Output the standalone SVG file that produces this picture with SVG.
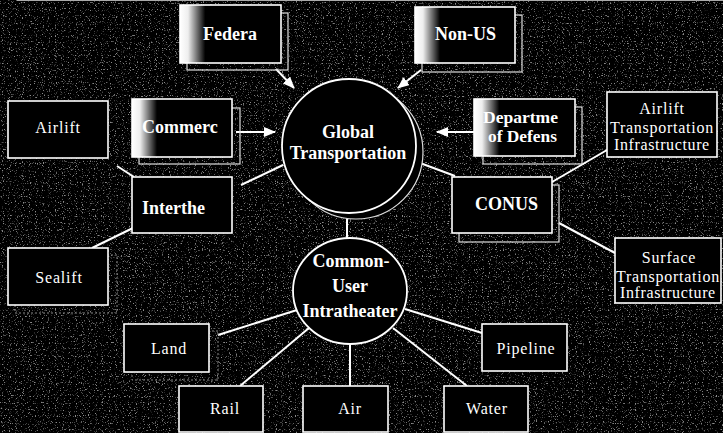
<svg xmlns="http://www.w3.org/2000/svg" width="723" height="433" viewBox="0 0 723 433">
<style>
.bx{fill:#000;stroke:#fff;stroke-width:1.6}
.gbx{stroke:#fff;stroke-width:1.6}
.sh{fill:none;stroke:#ddd;stroke-width:1.2}
.dsh{fill:none;stroke:#888;stroke-width:1;stroke-dasharray:2 2}
.ln{stroke:#fff;stroke-width:2;fill:none}
.ar{stroke:#fff;stroke-width:2;fill:none;marker-end:url(#ah)}
.b{font-family:"Liberation Serif",serif;font-weight:bold;font-size:18px;fill:#fff}
.r{font-family:"Liberation Serif",serif;font-size:16px;fill:#fff;text-anchor:middle;letter-spacing:0.8px}
.c{text-anchor:middle}
</style>
<defs>
<marker id="ah" viewBox="0 0 12 10" refX="11" refY="5" markerWidth="12" markerHeight="10" markerUnits="userSpaceOnUse" orient="auto">
<path d="M0,0 L12,5 L0,10 Z" fill="#fff"/>
</marker>
<linearGradient id="fade" x1="0" y1="0" x2="1" y2="0">
<stop offset="0" stop-color="#fff"/>
<stop offset="0.08" stop-color="#eee"/>
<stop offset="0.25" stop-color="#000"/>
<stop offset="1" stop-color="#000"/>
</linearGradient>
<filter id="noise" x="0" y="0" width="100%" height="100%">
<feTurbulence type="fractalNoise" baseFrequency="0.85" numOctaves="1" seed="7"/>
<feColorMatrix type="matrix" values="0 0 0 0 1 0 0 0 0 1 0 0 0 0 1 7 0 0 0 -4.1"/>
</filter>
</defs>
<rect x="0" y="0" width="723" height="433" fill="#000"/>
<rect x="0" y="0" width="723" height="433" filter="url(#noise)" opacity="0.55"/>
<line x1="17" y1="0.5" x2="723" y2="0.5" stroke="#aaa" stroke-width="1"/>

<g id="connectors">
<line class="ar" x1="276" y1="69" x2="294" y2="88"/>
<line class="ar" x1="421" y1="70" x2="398" y2="88"/>
<line class="ar" x1="236" y1="132" x2="275" y2="132"/>
<line class="ar" x1="474" y1="132" x2="437" y2="132"/>
<line class="ln" x1="117" y1="166" x2="134" y2="177"/>
<line class="ln" x1="133" y1="228" x2="92" y2="248"/>
<line class="ln" x1="241" y1="185" x2="283" y2="165"/>
<line class="ln" x1="412" y1="160" x2="455" y2="176"/>
<line class="ln" x1="552" y1="182" x2="607" y2="150"/>
<line class="ln" x1="559" y1="223" x2="615" y2="253"/>
<line class="ln" x1="347" y1="216" x2="347" y2="239"/>
<line class="ln" x1="218" y1="335" x2="297" y2="310"/>
<line class="ln" x1="240" y1="386" x2="309" y2="328"/>
<line class="ln" x1="350" y1="343" x2="350" y2="386"/>
<line class="ln" x1="467" y1="386" x2="393" y2="328"/>
<line class="ln" x1="482" y1="333" x2="405" y2="309"/>
</g>

<g id="global">
<circle cx="356" cy="152" r="67" fill="#000" stroke="#ddd" stroke-width="1.2"/>
<circle cx="349" cy="146" r="67" fill="#000" stroke="#fff" stroke-width="1.8"/>
<text class="b c" x="348" y="138">Global</text>
<text class="b c" x="348" y="159">Transportation</text>
</g>

<g id="common-user">
<ellipse cx="350" cy="291" rx="57" ry="53" fill="#000" stroke="#fff" stroke-width="1.8"/>
<text class="b c" x="351" y="267">Common-</text>
<text class="b c" x="350" y="292">User</text>
<text class="b c" x="350" y="317">Intratheater</text>
</g>

<g id="federal">
<rect class="sh" x="187" y="13" width="101" height="57"/>
<rect class="gbx" x="180" y="5" width="101" height="58" fill="url(#fade)"/>
<text class="b" x="203" y="40">Federa</text>
</g>

<g id="non-us">
<rect class="sh" x="422" y="15" width="100" height="57"/>
<rect class="gbx" x="415" y="7" width="100" height="56" fill="url(#fade)"/>
<text class="b" x="435" y="40">Non-US</text>
</g>

<g id="commercial">
<rect class="sh" x="139" y="108" width="101" height="56"/>
<rect class="gbx" x="132" y="99" width="100" height="58" fill="url(#fade)"/>
<text class="b" x="142" y="133">Commerc</text>
</g>

<g id="dod">
<rect class="sh" x="483" y="107" width="99" height="57"/>
<rect class="gbx" x="474" y="99" width="101" height="57" fill="url(#fade)"/>
<text class="b" x="483" y="123" style="font-size:16px" textLength="75" lengthAdjust="spacingAndGlyphs">Departme</text>
<text class="b" x="488" y="142" style="font-size:16px" textLength="69" lengthAdjust="spacingAndGlyphs">of Defens</text>
</g>

<g id="airlift">
<rect class="bx" x="8" y="101" width="100" height="57"/>
<text class="r" x="58" y="133">Airlift</text>
</g>

<g id="intertheater">
<rect class="bx" x="132" y="177" width="100" height="56"/>
<text class="b" x="142" y="214">Interthe</text>
</g>

<g id="sealift">
<rect class="dsh" x="15" y="255" width="102" height="58"/>
<rect class="bx" x="8" y="248" width="100" height="57"/>
<text class="r" x="59" y="283">Sealift</text>
</g>

<g id="conus">
<rect class="sh" x="459" y="185" width="100" height="57"/>
<rect class="bx" x="452" y="177" width="100" height="56"/>
<text class="b" x="475" y="210">CONUS</text>
</g>

<g id="airlift-infra">
<rect class="bx" x="607" y="92" width="110" height="65"/>
<text class="r" x="662" y="114">Airlift</text>
<text class="r" x="662" y="133" textLength="104" lengthAdjust="spacing">Transportation</text>
<text class="r" x="662" y="150" textLength="96" lengthAdjust="spacing">Infrastructure</text>
</g>

<g id="surface-infra">
<rect class="bx" x="615" y="238" width="106" height="65"/>
<text class="r" x="669" y="263">Surface</text>
<text class="r" x="668" y="282" textLength="104" lengthAdjust="spacing">Transportation</text>
<text class="r" x="668" y="298" textLength="96" lengthAdjust="spacing">Infrastructure</text>
</g>

<g id="land">
<rect class="dsh" x="132" y="331" width="86" height="49"/>
<rect class="bx" x="124" y="324" width="85" height="48"/>
<text class="r" x="169" y="354">Land</text>
</g>

<g id="pipeline">
<rect class="bx" x="482" y="324" width="85" height="47"/>
<text class="r" x="526" y="354">Pipeline</text>
</g>

<g id="rail">
<rect class="bx" x="179" y="386" width="84" height="46"/>
<text class="r" x="225" y="414">Rail</text>
</g>

<g id="air">
<rect class="bx" x="303" y="386" width="85" height="46"/>
<text class="r" x="350" y="414">Air</text>
</g>

<g id="water">
<rect class="bx" x="444" y="386" width="84" height="46"/>
<text class="r" x="487" y="414">Water</text>
</g>
</svg>
